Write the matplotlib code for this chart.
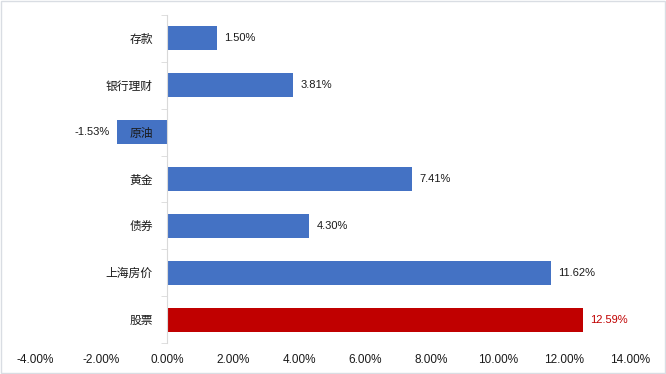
import matplotlib
matplotlib.use("Agg")
import matplotlib.pyplot as plt
from matplotlib.patches import Rectangle
from matplotlib.ticker import FuncFormatter, FixedLocator

plt.rcParams['font.family'] = ['Liberation Sans', 'Noto Sans CJK SC', 'DejaVu Sans']

categories = ["存款", "银行理财", "原油", "黄金", "债券", "上海房价", "股票"]
returns = [1.50, 3.81, -1.53, 7.41, 4.30, 11.62, 12.59]
colors = ["#4472C4"] * 6 + ["#C00000"]
label_colors = ["#1a1a1a"] * 6 + ["#C00000"]

fig = plt.figure(figsize=(6.66, 3.74), dpi=100)
ax = fig.add_axes([35 / 666, 1 - 343 / 374, 595 / 666, 328 / 374])

ypos = list(range(len(categories)))
ax.barh(ypos, returns, height=0.51, color=colors)
ax.set_ylim(len(categories) - 0.5, -0.5)
ax.set_xlim(-4, 14)
ax.set_xticks(range(-4, 15, 2))
ax.xaxis.set_major_formatter(FuncFormatter(lambda v, p: f"{v:.2f}%"))
ax.tick_params(axis='x', length=0, labelsize=8.5, pad=8, colors="#1a1a1a")

for s in ["top", "right", "bottom"]:
    ax.spines[s].set_visible(False)
ax.spines["left"].set_position(("data", 0))
ax.spines["left"].set_color("#d9d9d9")
ax.set_yticks(ypos)
ax.set_yticklabels(categories)
ax.tick_params(axis='y', which='major', length=0, labelsize=8.5, pad=10.5, colors="#1a1a1a")
ax.yaxis.set_minor_locator(FixedLocator([i - 0.5 for i in range(len(categories) + 1)]))
ax.tick_params(axis='y', which='minor', length=4, color="#d9d9d9")

for y, v, c in zip(ypos, returns, label_colors):
    if v >= 0:
        ax.annotate(f"{v:.2f}%", (v, y), xytext=(5, 0), textcoords="offset points",
                    ha="left", va="center", fontsize=8, color=c)
    else:
        ax.annotate(f"{v:.2f}%", (v, y), xytext=(-5, 0), textcoords="offset points",
                    ha="right", va="center", fontsize=8, color=c)

fig.patches.append(Rectangle((0.002, 0.003), 0.996, 0.994, transform=fig.transFigure,
                             fill=False, edgecolor="#d9dde3", linewidth=1))

fig.savefig("out.png", dpi=100)
